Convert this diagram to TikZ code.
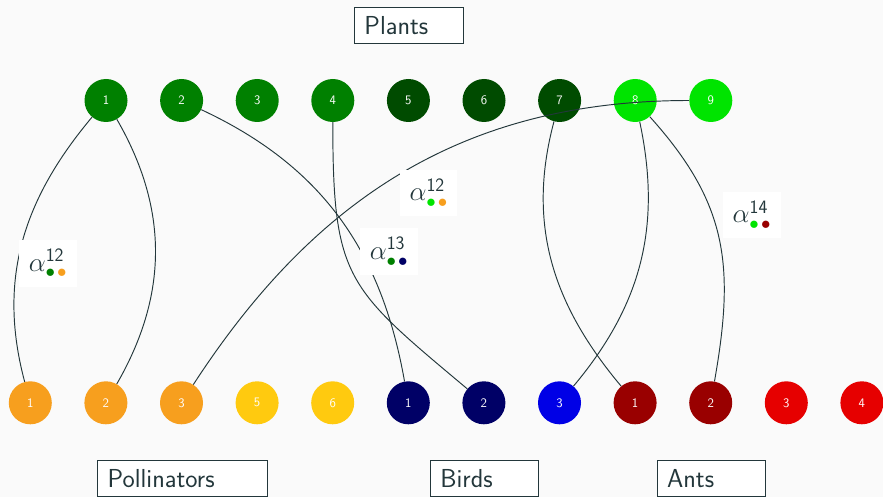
\documentclass[tikz,border=0pt]{standalone}
\usepackage{fix-cm}
\usepackage{fontspec}
\usepackage{xcolor}
\definecolor{bgcol}{HTML}{FAFAFA}
\definecolor{ink}{HTML}{23373B}
\definecolor{plantA}{RGB}{0,128,0}
\definecolor{plantB}{RGB}{0,75,0}
\definecolor{plantC}{RGB}{0,228,0}
\definecolor{pollA}{RGB}{247,159,30}
\definecolor{pollB}{RGB}{255,202,15}
\definecolor{birdA}{RGB}{0,0,102}
\definecolor{birdB}{RGB}{0,0,230}
\definecolor{antA}{RGB}{153,0,0}
\definecolor{antB}{RGB}{230,0,0}
% two coloured dots set as a subscript
\newcommand{\dotpair}[2]{\textcolor{#1}{\bullet}\mkern2mu\textcolor{#2}{\bullet}}
\begin{document}
\begin{tikzpicture}[x=1pt,y=1pt,
  sp/.style={circle, fill=#1, minimum size=43pt, inner sep=0pt, text=white,
    font=\sffamily\fontsize{13}{14}\selectfont},
  link/.style={draw=ink, line width=0.95pt},
  coef/.style={fill=white, minimum width=57.5pt, minimum height=46.5pt, inner sep=0pt,
    text=ink, font=\fontsize{27}{30}\selectfont},
  groupbox/.style={draw=ink, line width=0.8pt, fill=white, anchor=north west,
    minimum height=36pt, inner xsep=10pt, inner ysep=0pt, align=left, text=ink,
    font=\sffamily\fontsize{26}{28}\selectfont},
]
\useasboundingbox[fill=bgcol] (0,0) rectangle (883,-497);

% plants
\foreach \i/\c in {1/plantA,2/plantA,3/plantA,4/plantA,5/plantB,6/plantB,7/plantB,8/plantC,9/plantC}
  \node[sp=\c] (p\i) at ({106+75.6*(\i-1)},-100.5) {\i};

% pollinators, birds, ants
\node[sp=pollA] (a1) at (30.3,-402.8) {1};
\node[sp=pollA] (a2) at (105.9,-402.8) {2};
\node[sp=pollA] (a3) at (181.5,-402.8) {3};
\node[sp=pollB] (a5) at (257.1,-402.8) {5};
\node[sp=pollB] (a6) at (332.7,-402.8) {6};
\node[sp=birdA] (b1) at (408.3,-402.8) {1};
\node[sp=birdA] (b2) at (483.9,-402.8) {2};
\node[sp=birdB] (b3) at (559.5,-402.8) {3};
\node[sp=antA] (n1) at (635.1,-402.8) {1};
\node[sp=antA] (n2) at (710.7,-402.8) {2};
\node[sp=antB] (n3) at (786.3,-402.8) {3};
\node[sp=antB] (n4) at (861.9,-402.8) {4};

% interactions
\draw[link] (p1) to[out=230,in=105] (a1);
\draw[link] (p1) to[out=-60,in=60] (a2);
\draw[link] (p2) to[out=-25,in=100] (b1);
\draw[link] (p4) to[out=-90,in=140,looseness=1.35] (b2);
\draw[link] (p9) to[out=180,in=57] (a3);
\draw[link] (p7) to[out=255,in=130] (n1);
\draw[link] (p8) to[out=-78,in=50] (b3);
\draw[link] (p8) to[out=-48,in=80,looseness=1.1] (n2);

% coefficients
\node[coef] (c1) at (48,-263.3) {$\alpha^{\mathsf{12}}_{\dotpair{plantA}{pollA}}$};
\node[coef] (c2) at (428.7,-193) {$\alpha^{\mathsf{12}}_{\dotpair{plantC}{pollA}}$};
\node[coef] (c3) at (389,-251.5) {$\alpha^{\mathsf{13}}_{\dotpair{plantA}{birdA}}$};
\node[coef] (c4) at (751.8,-215) {$\alpha^{\mathsf{14}}_{\dotpair{plantC}{antA}}$};

% group titles
\node[groupbox, text width=88.7pt] (tp) at (354,-6.7) {Plants};
\node[groupbox, text width=149.4pt] (tq) at (97.3,-460) {Pollinators};
\node[groupbox, text width=88.3pt] (tb) at (430,-460) {Birds};
\node[groupbox, text width=88.3pt] (ta) at (656.7,-460) {Ants};
\end{tikzpicture}
\end{document}
